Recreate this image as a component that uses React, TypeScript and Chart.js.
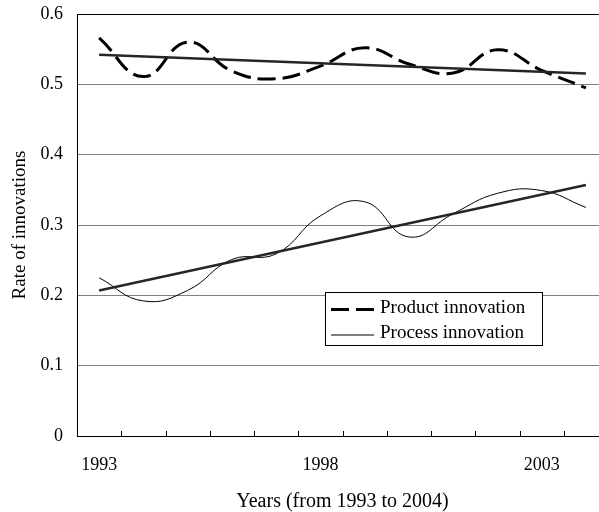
import React, { useEffect, useRef } from 'react';
import { Chart, registerables } from 'chart.js';

Chart.register(...registerables);

// ---- Data ----
const years = ['1993', '1994', '1995', '1996', '1997', '1998', '1999', '2000', '2001', '2002', '2003', '2004'];
const labelledYears = ['1993', '1998', '2003'];
const productInnovation = [0.566, 0.511, 0.560, 0.519, 0.508, 0.526, 0.552, 0.529, 0.516, 0.549, 0.520, 0.495];
const processInnovation = [0.225, 0.192, 0.207, 0.251, 0.259, 0.313, 0.333, 0.283, 0.316, 0.345, 0.349, 0.325];
const productTrendEnds = [0.542, 0.5155];
const processTrendEnds = [0.207, 0.357];
const yTickValues = [0, 0.1, 0.2, 0.3, 0.4, 0.5, 0.6];

const FONT = "'Liberation Serif', 'Times New Roman', serif";

const innerTicksPlugin = {
  id: 'innerTicks',
  afterDraw(chart: any) {
    const xs = chart.scales.x;
    const ctx = chart.ctx;
    const bottom = chart.chartArea.bottom;
    const step = xs.getPixelForValue(1) - xs.getPixelForValue(0);
    ctx.save();
    ctx.strokeStyle = '#000';
    ctx.lineWidth = 1;
    ctx.beginPath();
    for (let i = 1; i <= years.length; i++) {
      const px = xs.getPixelForValue(i - 1) + step / 2;
      const p = Math.round(px) + 0.5;
      ctx.moveTo(p, bottom);
      ctx.lineTo(p, bottom - 5);
    }
    ctx.stroke();
    ctx.restore();
  },
};

const boxLegendPlugin = {
  id: 'boxLegend',
  afterDraw(chart: any) {
    const ctx = chart.ctx;
    const items = chart.data.datasets.filter((d: any) => d.inLegend);
    const left = 325.5, top = 292.5, w = 217, h = 53;
    ctx.save();
    ctx.fillStyle = '#fff';
    ctx.fillRect(left, top, w, h);
    ctx.strokeStyle = '#000';
    ctx.lineWidth = 1;
    ctx.strokeRect(left, top, w, h);
    items.forEach((d: any, i: number) => {
      const cy = top + 15.5 + i * 25.5;
      ctx.beginPath();
      ctx.strokeStyle = d.borderColor;
      ctx.lineWidth = d.borderWidth;
      ctx.setLineDash(d.borderDash || []);
      ctx.moveTo(331, cy + 1.5);
      ctx.lineTo(374, cy + 1.5);
      ctx.stroke();
      ctx.setLineDash([]);
      ctx.fillStyle = '#000';
      ctx.font = `19px ${FONT}`;
      ctx.textBaseline = 'middle';
      ctx.textAlign = 'left';
      ctx.fillText(d.label, 380, cy);
    });
    ctx.restore();
  },
};

export default function App() {
  const canvasRef = useRef<HTMLCanvasElement | null>(null);

  useEffect(() => {
    if (!canvasRef.current) return;
    const chart = new Chart(canvasRef.current, {
      type: 'line',
      data: {
        labels: years,
        datasets: [
          {
            label: 'Product trend',
            data: [
              { x: years[0], y: productTrendEnds[0] },
              { x: years[years.length - 1], y: productTrendEnds[1] },
            ],
            borderColor: '#262626',
            borderWidth: 2.5,
            pointRadius: 0,
            tension: 0,
          } as any,
          {
            label: 'Process trend',
            data: [
              { x: years[0], y: processTrendEnds[0] },
              { x: years[years.length - 1], y: processTrendEnds[1] },
            ],
            borderColor: '#262626',
            borderWidth: 2.5,
            pointRadius: 0,
            tension: 0,
          } as any,
          {
            label: 'Product innovation',
            data: productInnovation,
            borderColor: '#000',
            borderWidth: 3,
            borderDash: [18, 7],
            pointRadius: 0,
            tension: 0.45,
            inLegend: true,
          } as any,
          {
            label: 'Process innovation',
            data: processInnovation,
            borderColor: '#000',
            borderWidth: 1,
            pointRadius: 0,
            tension: 0.45,
            inLegend: true,
          } as any,
        ],
      },
      options: {
        animation: false,
        responsive: false,
        maintainAspectRatio: false,
        layout: { padding: { top: 14, right: 12, left: 0, bottom: 0 } },
        plugins: { legend: { display: false }, tooltip: { enabled: false } },
        scales: {
          x: {
            type: 'category',
            offset: true,
            grid: { display: true, drawOnChartArea: false, drawTicks: false },
            border: { display: true, color: '#000', width: 1 },
            ticks: {
              autoSkip: false,
              maxRotation: 0,
              padding: 18,
              color: '#000',
              font: { family: FONT, size: 18 },
              callback: (_v: any, i: number) => (labelledYears.includes(years[i]) ? years[i] : ''),
            },
            title: {
              display: true,
              text: 'Years (from 1993 to 2004)',
              color: '#000',
              font: { family: FONT, size: 20, lineHeight: 1 },
              padding: { top: 0, bottom: 0 },
            },
            afterFit: (s: any) => {
              s.height = 76;
              s.paddingLeft = 0;
              s.paddingRight = 0;
            },
          },
          y: {
            min: 0,
            max: 0.6,
            afterBuildTicks: (s: any) => {
              s.ticks = yTickValues.map((v) => ({ value: v }));
            },
            grid: {
              drawTicks: false,
              color: (c: any) => (c.tick && (c.tick.value === 0.6 || c.tick.value === 0) ? '#000' : '#808080'),
              lineWidth: 1,
            },
            border: { display: true, color: '#000', width: 1 },
            ticks: {
              padding: 14,
              color: '#000',
              font: { family: FONT, size: 18 },
              callback: (v: any) => (v === 0 ? '0' : Number(v).toFixed(1)),
            },
            title: {
              display: true,
              text: 'Rate of innovations',
              color: '#000',
              font: { family: FONT, size: 19, lineHeight: 1 },
              padding: { top: 10.5, bottom: 0 },
            },
            afterFit: (s: any) => {
              s.width = 77;
              s.paddingTop = 0;
              s.paddingBottom = 0;
            },
          },
        },
      },
      plugins: [innerTicksPlugin, boxLegendPlugin],
    });
    return () => chart.destroy();
  }, []);

  return (
    <div style={{ position: 'fixed', left: 0, top: 0, width: 599, height: 512, overflow: 'hidden', background: '#fff' }}>
      <canvas ref={canvasRef} width={620} height={512} style={{ display: 'block' }} />
    </div>
  );
}
